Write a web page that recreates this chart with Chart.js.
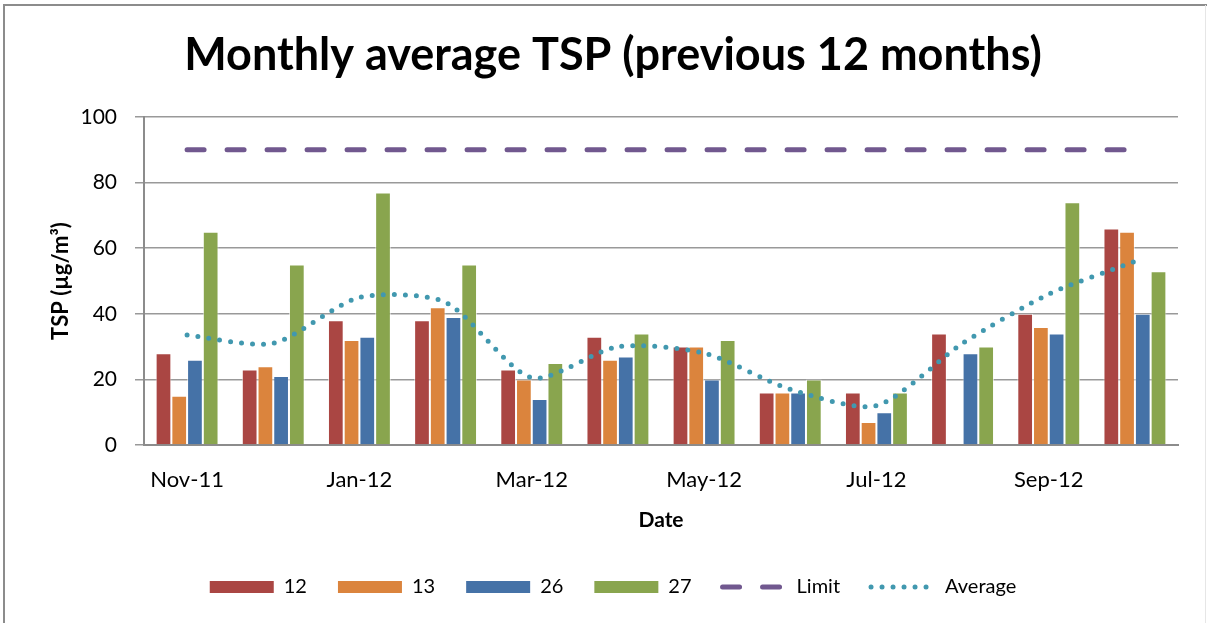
<!DOCTYPE html>
<html>
<head>
<meta charset="utf-8">
<script src="https://cdn.jsdelivr.net/npm/chart.js@4"></script>
<style>
  body { margin: 0; background: #fff; }
  #wrap { position: relative; width: 1207px; height: 623px; }
  canvas { position: absolute; left: 0; top: 0; }
</style>
</head>
<body>
<div id="wrap"><canvas id="tspChart" width="1207" height="623"></canvas></div>
<script>
// months on the x axis
const months = ["Nov-11", "Dec-11", "Jan-12", "Feb-12", "Mar-12", "Apr-12",
                "May-12", "Jun-12", "Jul-12", "Aug-12", "Sep-12", "Oct-12"];

// monitoring sites (µg/m³)
const site12 = [28, 23, 38, 38, 23, 33, 30, 16, 16, 34, 40, 66];
const site13 = [15, 24, 32, 42, 20, 26, 30, 16, 7, null, 36, 65];
const site26 = [26, 21, 33, 39, 14, 27, 20, 16, 10, 28, 34, 40];
const site27 = [65, 55, 77, 55, 25, 34, 32, 20, 16, 30, 74, 53];

const limit = [90, 90, 90, 90, 90, 90, 90, 90, 90, 90, 90, 90];
const average = [33.5, 31, 45, 43.5, 20.5, 30, 28, 17, 12, 31, 46, 56];

const yTicks = [0, 20, 40, 60, 80, 100];

const FONT = "Lato, 'Open Sans', sans-serif";

// gray frame round the chart
const framePlugin = {
    id: "frame",
    beforeDraw(chart) {
        const ctx = chart.ctx;
        ctx.save();
        ctx.fillStyle = "#fff";
        ctx.fillRect(0, 0, chart.width, chart.height);
        ctx.strokeStyle = "#8c8c8c";
        ctx.lineWidth = 2;
        ctx.beginPath();
        ctx.moveTo(4, chart.height);
        ctx.lineTo(4, 5);
        ctx.lineTo(chart.width, 5);
        ctx.stroke();
        ctx.strokeStyle = "#e6e6e6";
        ctx.lineWidth = 1;
        ctx.beginPath();
        ctx.moveTo(1205.5, 5);
        ctx.lineTo(1205.5, chart.height);
        ctx.stroke();
        ctx.restore();
    }
};

function barSet(label, data, color) {
    return {
        type: "bar",
        label: label,
        data: data,
        backgroundColor: color,
        borderColor: "rgba(255,255,255,0.6)",
        borderWidth: 1,
        categoryPercentage: 0.73,
        barPercentage: 1,
        order: 2
    };
}

const ctx = document.getElementById("tspChart").getContext("2d");

new Chart(ctx, {
    data: {
        labels: months,
        datasets: [
            barSet("12", site12, "#AA4643"),
            barSet("13", site13, "#DB843D"),
            barSet("26", site26, "#4572A7"),
            barSet("27", site27, "#89A54E"),
            {
                type: "line",
                label: "Limit",
                data: limit,
                borderColor: "#71588F",
                borderWidth: 5,
                borderDash: [17, 23],
                borderCapStyle: "round",
                pointRadius: 0,
                fill: false,
                order: 1
            },
            {
                type: "line",
                label: "Average",
                data: average,
                borderColor: "#4198AF",
                borderWidth: 5,
                borderDash: [0, 11],
                borderCapStyle: "round",
                tension: 0.25,
                pointRadius: 0,
                fill: false,
                order: 0
            }
        ]
    },
    options: {
        responsive: false,
        animation: false,
        layout: { padding: { left: 48, right: 29, top: 0, bottom: 16 } },
        plugins: {
            title: {
                display: true,
                text: "Monthly average TSP (previous 12 months)",
                color: "#000",
                font: { family: FONT, size: 45, weight: "bold" },
                padding: { top: 28, bottom: 35 }
            },
            legend: {
                position: "bottom",
                labels: {
                    color: "#000",
                    font: { family: FONT, size: 20 },
                    usePointStyle: true,
                    pointStyleWidth: 64,
                    boxHeight: 12,
                    padding: 31,
                    sort: (a, b) => a.datasetIndex - b.datasetIndex,
                    generateLabels(chart) {
                        const items = Chart.defaults.plugins.legend.labels.generateLabels(chart);
                        items.forEach(item => {
                            const ds = chart.data.datasets[item.datasetIndex];
                            if (ds.type === "bar") {
                                item.pointStyle = "rect";
                                item.lineWidth = 0;
                                item.fillStyle = ds.backgroundColor;
                            } else {
                                item.pointStyle = "line";
                                item.lineWidth = 5;
                                item.strokeStyle = ds.borderColor;
                                item.lineDash = ds.label === "Limit" ? [17, 23] : [0, 11];
                                item.lineCap = "round";
                            }
                        });
                        return items;
                    }
                }
            },
            tooltip: { enabled: false }
        },
        scales: {
            x: {
                grid: { display: false },
                border: { display: true, color: "#8c8c8c", width: 2 },
                ticks: {
                    autoSkip: false,
                    maxRotation: 0,
                    color: "#000",
                    padding: 14,
                    font: { family: FONT, size: 22 },
                    callback: function (val, i) { return i % 2 === 0 ? months[i] : ""; }
                },
                title: {
                    display: true,
                    text: "Date",
                    color: "#000",
                    font: { family: FONT, size: 21, weight: "bold" },
                    padding: { top: 0, bottom: 13 }
                },
                afterFit(scale) { scale.height = 101; }
            },
            y: {
                min: 0,
                max: 100,
                afterBuildTicks(scale) { scale.ticks = yTicks.map(v => ({ value: v })); },
                grid: { color: "#999", lineWidth: 1.5, tickLength: 9 },
                border: { display: true, color: "#8c8c8c", width: 2 },
                ticks: {
                    color: "#000",
                    padding: 18,
                    font: { family: FONT, size: 21 }
                },
                title: {
                    display: true,
                    text: "TSP (µg/m³)",
                    color: "#000",
                    font: { family: FONT, size: 22, weight: "bold" },
                    padding: { top: 0, bottom: 4 }
                },
                afterFit(scale) { scale.width = 96; }
            }
        }
    },
    plugins: [framePlugin]
});
</script>
</body>
</html>
